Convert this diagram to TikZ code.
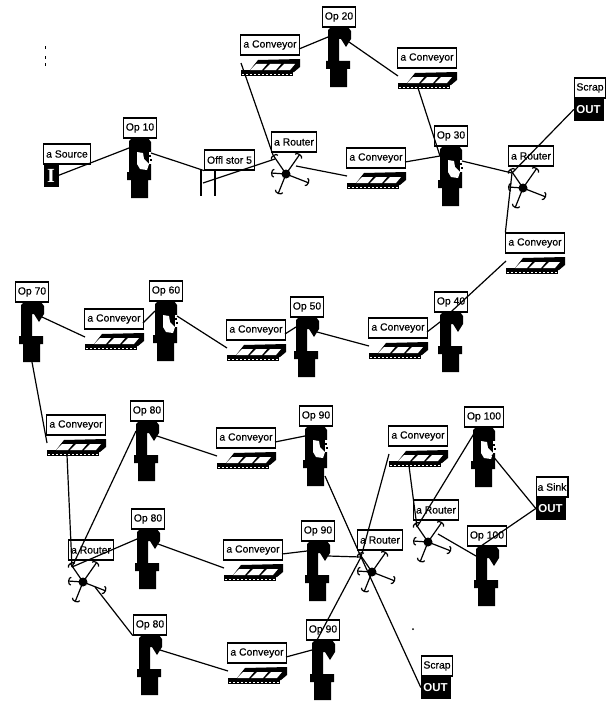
\documentclass[tikz,border=0pt]{standalone}
\usepackage{fontspec}
\setmainfont{Liberation Sans}
\newfontfamily\iconfont{Liberation Serif}
\usetikzlibrary{arrows.meta, calc}

\tikzset{
    lab/.style={draw, fill=white, line width=1.1pt, minimum height=20pt, inner xsep=2.5pt, inner ysep=1pt, font=\fontsize{10.4}{11}\selectfont\addfontfeatures{FakeBold=0.5}},
    outbox/.style={draw, fill=black, text=white, inner sep=0pt, minimum width=29pt, minimum height=22pt, font=\bfseries\fontsize{11.5}{12}\selectfont},
    link/.style={line width=1.2pt},
    arm/.style={line width=1.2pt, -{Arc Barb[length=3pt, width=9pt]}}
}

% Maschine mit Kopf, Flansch und Fuss
\newcommand{\opmachine}[3]{
    \begin{scope}[shift={(#2)}]
        \fill (-11,13) -- (-8,10) -- (9,10) -- (12,14) -- (12,22) -- (7,30) -- (2,22) -- (0,22) -- (0,44)
            -- (11,44) -- (11,52) -- (8,52) -- (8,70) -- (-9,70) -- (-9,52) -- (-13,52) -- (-13,44) -- (-11,44) -- cycle;
        \coordinate (#1in) at (-11,20);
        \coordinate (#1out) at (10,25);
        \coordinate (#1top) at (-6,10);
        \coordinate (#1bot) at (0,70);
    \end{scope}
    \node[lab] (#1) at (#2) {#3};
}

% Maschine in Arbeit, Kopf mit weissem Fleck
\newcommand{\opbusy}[3]{
    \begin{scope}[shift={(#2)}]
        \fill (-11,13) -- (-8,10) -- (8,10) -- (11,14) -- (11,44) -- (11,52) -- (8,52) -- (8,70) -- (-9,70)
            -- (-9,52) -- (-13,52) -- (-13,44) -- (-11,44) -- cycle;
        \fill[white] (-3,24) -- (3,25) -- (4,31) -- (9,36) -- (7,42) -- (0,41) -- (-3,36) -- cycle;
        \fill[white] (9,24) rectangle (12,36);
        \fill (9,27) rectangle (10.5,28.5);
        \fill (10,31) rectangle (11.5,32.5);
        \coordinate (#1in) at (-11,20);
        \coordinate (#1out) at (11,25);
        \coordinate (#1top) at (-6,10);
        \coordinate (#1bot) at (9,60);
    \end{scope}
    \node[lab] (#1) at (#2) {#3};
}

% Foerderband
\newcommand{\belt}[2]{
    \begin{scope}[shift={(#2)}]
        \fill (-12,15) -- (30,14) -- (30,22) -- (24,27) -- (-29,27) -- (-29,25) -- (-20,25) -- cycle;
        \foreach \i in {0,1,2}
            \fill[white] (-20+14*\i,25) -- (-8+14*\i,25) -- (-3+14*\i,19) -- (-14+14*\i,19) -- cycle;
        \fill (-29,27) rectangle (23,31);
        \draw[white, line width=1pt, dash pattern=on 2pt off 2pt] (-28,29) -- (22,29);
        \coordinate (#1in) at (-29,18);
        \coordinate (#1out) at (29,4);
        \coordinate (#1bot) at (-9,30);
    \end{scope}
    \node[lab] (#1) at (#2) {a Conveyor};
}

% Verteiler mit fuenf Armen
\newcommand{\router}[2]{
    \begin{scope}[shift={(#2)}]
        \draw[arm] (-8,32) -- (-21,13);
        \draw[arm] (-8,32) -- (6,12);
        \draw[arm] (-8,32) -- (-23,31);
        \draw[arm] (-8,32) -- (-16,52);
        \draw[arm] (-8,32) -- (15,41);
        \fill (-8,32) circle (4.5);
        \coordinate (#1w) at (-19,17);
        \coordinate (#1e) at (2,24);
        \coordinate (#1ul) at (-21,13);
        \coordinate (#1se) at (4,37);
    \end{scope}
    \node[lab] (#1) at (#2) {a Router};
}

% Senke mit OUT-Kasten
\newcommand{\drain}[3]{
    \node[outbox] (#1box) at ($(#2)+(-1.5,21.5)$) {OUT};
    \node[lab, inner xsep=1.5pt] (#1) at (#2) {#3};
}

\begin{document}
\begin{tikzpicture}[x=1pt, y=-1pt]
    \useasboundingbox (0,0) rectangle (612,701);

    % Erste Reihe
    \node[outbox, minimum width=14pt, minimum height=21pt, font=\iconfont\bfseries\fontsize{20}{20}\selectfont] (sourcebox) at (51,175.5) {I};
    \node[lab] (source) at (67,154) {a Source};
    \opbusy{opten}{140,128}{Op 10}
    \draw[line width=1.2pt] (201,170) -- (201,196);
    \draw[line width=1.2pt] (215,170) -- (215,196);
    \node[lab] (store) at (229.5,160) {Offl stor 5};
    \router{routa}{294,142}
    \belt{beltb}{270,45}
    \opmachine{optwenty}{339,17}{Op 20}
    \belt{beltc}{427,58}
    \belt{beltd}{376,158}
    \opbusy{opthirty}{451,136}{Op 30}
    \router{routb}{531,156}
    \drain{scrapa}{590,88}{Scrap}
    \belt{belte}{535,243}

    % Zweite Reihe
    \opmachine{opforty}{451,302}{Op 40}
    \belt{beltf}{398,328}
    \opmachine{opfifty}{307,307}{Op 50}
    \belt{beltg}{256,330}
    \opbusy{opsixty}{166,291}{Op 60}
    \belt{belth}{114,319}
    \opmachine{opseventy}{32,292}{Op 70}

    % Dritte Gruppe
    \belt{belti}{76,425}
    \router{routc}{91,550}
    \opmachine{opeia}{147,411}{Op 80}
    \opmachine{opeib}{148,519}{Op 80}
    \opmachine{opeic}{150,625}{Op 80}
    \belt{beltj}{246,438}
    \belt{beltk}{253,550}
    \belt{beltl}{257,653}
    \opbusy{opnia}{316,416}{Op 90}
    \opmachine{opnib}{318,531}{Op 90}
    \opmachine{opnic}{323,630}{Op 90}
    \router{routd}{380,540}
    \belt{beltm}{418,436}
    \router{route}{436,510}
    \opbusy{ophua}{484,417}{Op 100}
    \opmachine{ophub}{487,536}{Op 100}
    \drain{sink}{552,487}{a Sink}
    \drain{scrapb}{437,666}{Scrap}

    % Verbindungen
    \coordinate (storeout) at (203,183);
    \coordinate (ophualow) at (492,455);
    \begin{scope}[link]
        \draw (sourcebox.east) -- (optenin);
        \draw (optenout) -- (store.south west);
        \draw (storeout) -- (routaw);
        \draw (routae) -- (beltdin);
        \draw (beltbin) -- (routaul);
        \draw (beltbout) -- (optwentyin);
        \draw (optwentyout) -- (beltcin);
        \draw (beltcbot) -- (opthirtyin);
        \draw (beltdout) -- (opthirtyin);
        \draw (opthirtyout) -- (routbw);
        \draw (routbw) -- (scrapabox.west);
        \draw (routbw) -- (belte.north west);
        \draw (beltein) -- (opfortyin);
        \draw (beltfout) -- (opfortyin);
        \draw (opfiftyout) -- (beltfin);
        \draw (beltgout) -- (opfiftyin);
        \draw (opsixtyout) -- (beltgin);
        \draw (belthout) -- (opsixtyin);
        \draw (opseventyout) -- (belthin);
        \draw (opseventybot) -- (beltiin);
        \draw (beltibot) -- (routcw);
        \draw (routcw) -- (opeiain);
        \draw (routcw) -- (opeibin);
        \draw (routcse) -- (opeic.south west);
        \draw (opeiaout) -- (beltjin);
        \draw (opeibout) -- (beltkin);
        \draw (opeicout) -- (beltlin);
        \draw (beltjout) -- (opniain);
        \draw (beltkout) -- (opnibin);
        \draw (beltlout) -- (opnicin);
        \draw (opniabot) -- (routdw);
        \draw (opnibout) -- (routdw);
        \draw (opnictop) -- (routdw);
        \draw (routdw) -- (scrapbbox.west);
        \draw (routdw) -- (beltmin);
        \draw (beltmbot) -- (routew);
        \draw (routew) -- (ophuatop);
        \draw (routee) -- (ophubin);
        \draw (ophualow) -- (sinkbox.west);
        \draw (ophubtop) -- (sinkbox.west);
    \end{scope}

    % Kleine Flecken
    \fill (44.5,46) rectangle (45.5,49);
    \fill (44.5,56) rectangle (45.5,59);
    \fill (44.5,63) rectangle (45.5,66);
    \fill (413,629) circle (1);
\end{tikzpicture}
\end{document}
